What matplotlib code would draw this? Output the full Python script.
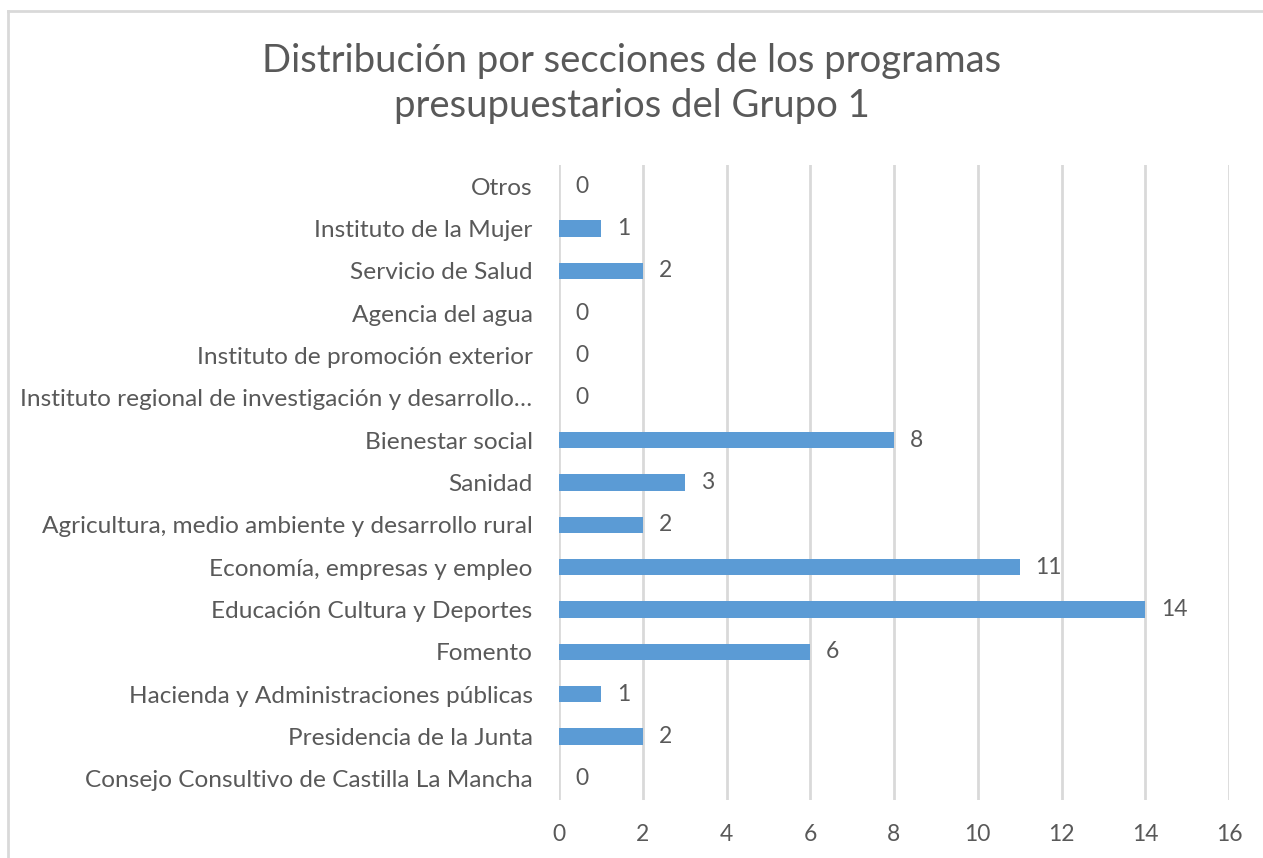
import matplotlib.pyplot as plt
from matplotlib.lines import Line2D

# Datos
secciones = [
    "Consejo Consultivo de Castilla La Mancha",
    "Presidencia de la Junta",
    "Hacienda y Administraciones públicas",
    "Fomento",
    "Educación Cultura y Deportes",
    "Economía, empresas y empleo",
    "Agricultura, medio ambiente y desarrollo rural",
    "Sanidad",
    "Bienestar social",
    "Instituto regional de investigación y desarrollo…",
    "Instituto de promoción exterior",
    "Agencia del agua",
    "Servicio de Salud",
    "Instituto de la Mujer",
    "Otros",
]
programas = [0, 2, 1, 6, 14, 11, 2, 3, 8, 0, 0, 0, 2, 1, 0]
ticks_x = [0, 2, 4, 6, 8, 10, 12, 14, 16]

gris = "#595959"
plt.rcParams['font.family'] = ['Lato', 'DejaVu Sans']

fig = plt.figure(figsize=(12.63, 8.58), dpi=100)
ax = fig.add_axes([559 / 1263, 1 - 800 / 858, (1229 - 559) / 1263, (800 - 165) / 858])

y = range(len(secciones))
ax.barh(y, programas, height=0.38, color="#5b9bd5", zorder=3)
for i, v in enumerate(programas):
    ax.text(v + 0.38, i, str(v), va="center", ha="left", fontsize=16.5, color=gris)

ax.set_xlim(0, 16)
ax.set_ylim(-0.5, len(secciones) - 0.5)
ax.set_xticks(ticks_x)
ax.set_yticks(list(y))
ax.set_yticklabels(secciones)
ax.tick_params(axis='x', length=0, labelsize=16.5, colors=gris, pad=17)
ax.tick_params(axis='y', length=0, labelsize=17.6, colors=gris, pad=19)
ax.grid(axis='x', color="#d9d9d9", linewidth=2, zorder=0)
for s in ax.spines.values():
    s.set_visible(False)

fig.text(0.5, 1 - 61 / 858, "Distribución por secciones de los programas", ha="center", va="center",
         fontsize=27.5, color=gris)
fig.text(0.5, 1 - 106 / 858, "presupuestarios del Grupo 1", ha="center", va="center",
         fontsize=27.5, color=gris)

# marco del gráfico
fig.add_artist(Line2D([8 / 1263, 8 / 1263], [0, 1 - 11 / 858], transform=fig.transFigure,
                      color="#d9d9d9", linewidth=2))
fig.add_artist(Line2D([8 / 1263, 1], [1 - 11 / 858, 1 - 11 / 858], transform=fig.transFigure,
                      color="#d9d9d9", linewidth=2))

fig.savefig("out.png", dpi=100)
